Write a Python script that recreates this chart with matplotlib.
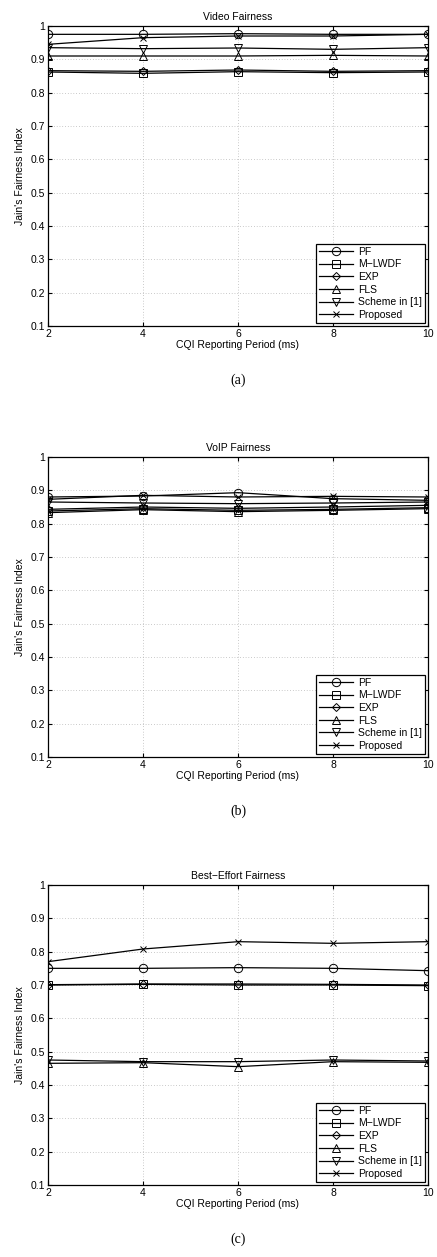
import matplotlib
matplotlib.use("Agg")
import matplotlib.pyplot as plt
from matplotlib.ticker import FuncFormatter

plt.rcParams.update({
    "font.family": ["Liberation Sans", "DejaVu Sans"],
    "font.size": 7,
})

periods = [2, 4, 6, 8, 10]
schemes = ["PF", "M\u2212LWDF", "EXP", "FLS", "Scheme in [1]", "Proposed"]
markers = ["o", "s", "D", "^", "v", "x"]

video_pf = [0.975, 0.975, 0.977, 0.975, 0.975]
video_mlwdf = [0.862, 0.858, 0.863, 0.860, 0.862]
video_exp = [0.866, 0.864, 0.868, 0.864, 0.866]
video_fls = [0.910, 0.910, 0.910, 0.912, 0.910]
video_scheme1 = [0.935, 0.932, 0.934, 0.930, 0.935]
video_proposed = [0.945, 0.965, 0.970, 0.970, 0.975]

voip_pf = [0.880, 0.883, 0.893, 0.875, 0.870]
voip_mlwdf = [0.838, 0.845, 0.840, 0.843, 0.848]
voip_exp = [0.843, 0.850, 0.846, 0.850, 0.855]
voip_fls = [0.833, 0.842, 0.836, 0.840, 0.845]
voip_scheme1 = [0.865, 0.862, 0.860, 0.862, 0.865]
voip_proposed = [0.873, 0.885, 0.880, 0.882, 0.880]

be_pf = [0.750, 0.750, 0.752, 0.750, 0.743]
be_mlwdf = [0.700, 0.702, 0.700, 0.700, 0.698]
be_exp = [0.701, 0.703, 0.703, 0.702, 0.700]
be_fls = [0.465, 0.467, 0.455, 0.470, 0.468]
be_scheme1 = [0.475, 0.470, 0.470, 0.475, 0.472]
be_proposed = [0.770, 0.808, 0.830, 0.825, 0.830]

panels = [
    ("Video Fairness", "(a)",
     [video_pf, video_mlwdf, video_exp, video_fls, video_scheme1, video_proposed]),
    ("VoIP Fairness", "(b)",
     [voip_pf, voip_mlwdf, voip_exp, voip_fls, voip_scheme1, voip_proposed]),
    ("Best\u2212Effort Fairness", "(c)",
     [be_pf, be_mlwdf, be_exp, be_fls, be_scheme1, be_proposed]),
]
msizes = {"o": 6, "s": 5.5, "D": 4.5, "^": 5.5, "v": 5.5, "x": 4}

W, H = 437, 1257
fig = plt.figure(figsize=(W / 100, H / 100), dpi=100)

# axes boxes in pixels: left, top, right, bottom
tops = [26, 457, 885]
left, right, height = 48, 428, 300

for (title, caption, series), top in zip(panels, tops):
    ax = fig.add_axes([left / W, 1 - (top + height) / H, (right - left) / W, height / H])
    for vals, name, m in zip(series, schemes, markers):
        ax.plot(periods, vals, color="black", linewidth=0.9, marker=m,
                markersize=msizes[m], markerfacecolor="none",
                markeredgecolor="black", markeredgewidth=0.7, label=name)
    ax.set_xlim(2, 10)
    ax.set_ylim(0.1, 1.0)
    ax.set_xticks(periods)
    ax.set_yticks([0.1 * i for i in range(1, 11)])
    ax.yaxis.set_major_formatter(FuncFormatter(lambda v, p: f"{v:.1f}".rstrip("0").rstrip(".")))
    ax.grid(True, linestyle=(0, (1, 3)), color="#999999", linewidth=0.5)
    ax.tick_params(direction="in", top=True, right=True, length=3, pad=2, labelsize=7.5)
    for s in ax.spines.values():
        s.set_linewidth(0.9)
    ax.set_title(title, fontsize=7.5, pad=4)
    ax.set_xlabel("CQI Reporting Period (ms)", fontsize=7.5, labelpad=1)
    ax.set_ylabel("Jain's Fairness Index", fontsize=7.5, labelpad=4)
    leg = ax.legend(loc="lower right", fontsize=7.5, fancybox=False, framealpha=1,
                    edgecolor="black", borderaxespad=0.3, handlelength=3.2,
                    labelspacing=0.25, borderpad=0.3, handletextpad=0.5)
    leg.get_frame().set_linewidth(0.9)
    fig.text((left + right) / 2 / W, 1 - (top + height + 54) / H, caption,
             ha="center", va="center", fontsize=10,
             family=["Liberation Serif", "DejaVu Serif"])

fig.savefig("out.png", dpi=100)
